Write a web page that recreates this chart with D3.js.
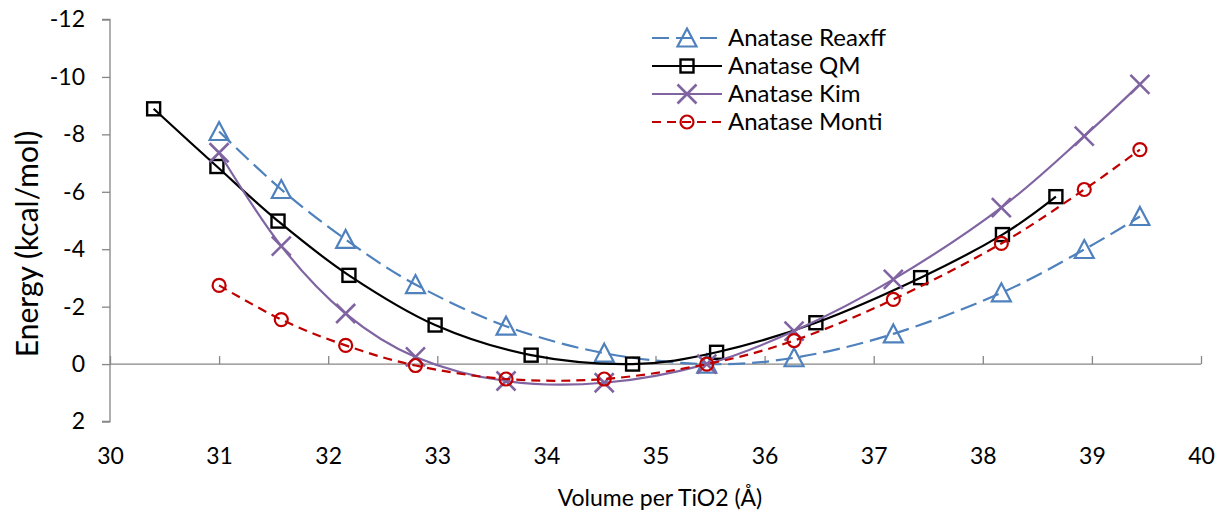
<!DOCTYPE html>
<html><head><meta charset="utf-8">
<script src="https://cdn.jsdelivr.net/npm/d3@7"></script>
<style>body{margin:0;background:#fff;} svg{display:block;font-family:Lato,"Open Sans",sans-serif;}</style>
</head><body>
<svg id="c" width="1220" height="516"></svg>
<script>
const seriesNames = ["Anatase Reaxff","Anatase QM","Anatase Kim","Anatase Monti"];
const volCommon = [31.0,31.57,32.16,32.80,33.63,34.53,35.47,36.27,37.18,38.17,38.93,39.44];
const volQM = [30.40,30.98,31.54,32.19,32.98,33.86,34.79,35.56,36.47,37.43,38.18,38.67];
const eReaxff = [-8.10,-6.08,-4.34,-2.77,-1.32,-0.38,0.0,-0.22,-1.05,-2.48,-3.99,-5.14];
const eQM = [-8.89,-6.88,-4.98,-3.09,-1.36,-0.31,0.0,-0.41,-1.44,-3.01,-4.51,-5.83];
const eKim = [-7.36,-4.11,-1.76,-0.25,0.59,0.65,0.0,-1.15,-2.95,-5.45,-7.94,-9.74];
const eMonti = [-2.74,-1.55,-0.65,0.05,0.52,0.52,0.0,-0.82,-2.25,-4.20,-6.08,-7.47];
const xTicks = [30,31,32,33,34,35,36,37,38,39,40];
const yTicks = [-12,-10,-8,-6,-4,-2,0,2];

const svg = d3.select("#c");
const x = d3.scaleLinear().domain([30,40]).range([110,1201]);
const y = d3.scaleLinear().domain([-12,2]).range([19.5,421.5]);
const axisCol = "#868686";
const fmt = d => String(d);

const series = [
  {name:seriesNames[0], xs:volCommon, ys:eReaxff, color:"#4F81BD", dash:"17,7", marker:"tri"},
  {name:seriesNames[1], xs:volQM, ys:eQM, color:"#000000", dash:null, marker:"sq"},
  {name:seriesNames[2], xs:volCommon, ys:eKim, color:"#8064A2", dash:null, marker:"x"},
  {name:seriesNames[3], xs:volCommon, ys:eMonti, color:"#C00000", dash:"9,6", marker:"circ"}
];

// Y axis
const yAxis = d3.axisLeft(y).tickValues(yTicks).tickSize(8).tickPadding(17).tickFormat(fmt);
const gy = svg.append("g").attr("transform","translate(110,0)").call(yAxis);
gy.select(".domain").attr("stroke",axisCol).attr("stroke-width",1.3).attr("d","M-8,19.5H0V421.5H-8");
gy.selectAll(".tick line").attr("stroke",axisCol).attr("stroke-width",1.3);
gy.selectAll(".tick text").attr("font-size",23).attr("fill","#000").attr("font-family","Lato");

// X axis along y=0
const xAxis = d3.axisTop(x).tickValues(xTicks).tickSize(8).tickFormat("");
const gx = svg.append("g").attr("transform",`translate(0,${y(0)})`).call(xAxis);
gx.select(".domain").attr("stroke",axisCol).attr("stroke-width",1.3).attr("d",`M110,0H${x(40)}`);
gx.selectAll(".tick line").attr("stroke",axisCol).attr("stroke-width",1.3);
// X tick labels at bottom
const gxl = svg.append("g").attr("transform","translate(0,421.5)").call(d3.axisBottom(x).tickValues(xTicks).tickSize(0).tickPadding(26).tickFormat(fmt));
gxl.select(".domain").remove();
gxl.selectAll(".tick text").attr("font-size",23).attr("fill","#000").attr("font-family","Lato");

// titles
svg.append("text").attr("x",660).attr("y",506).attr("text-anchor","middle").attr("font-size",23).text("Volume per TiO2 (Å)");
svg.append("text").attr("transform","translate(38,244) rotate(-90)").attr("text-anchor","middle").attr("font-size",30).text("Energy (kcal/mol)");

function drawMarker(g, type, cx, cy, color){
  if(type==="tri"){
    const s=19, h=17;
    g.append("path").attr("d",`M${cx},${cy-h/2-1}L${cx+s/2},${cy+h/2}L${cx-s/2},${cy+h/2}Z`)
      .attr("fill","none").attr("stroke",color).attr("stroke-width",2.2);
  } else if(type==="sq"){
    const s=13;
    g.append("rect").attr("x",cx-s/2).attr("y",cy-s/2).attr("width",s).attr("height",s)
      .attr("fill","none").attr("stroke",color).attr("stroke-width",2.4);
  } else if(type==="x"){
    const s=9.5;
    g.append("path").attr("d",`M${cx-s},${cy-s}L${cx+s},${cy+s}M${cx-s},${cy+s}L${cx+s},${cy-s}`)
      .attr("stroke",color).attr("stroke-width",2.6).attr("fill","none");
  } else {
    g.append("circle").attr("cx",cx).attr("cy",cy).attr("r",6.5)
      .attr("fill","none").attr("stroke",color).attr("stroke-width",2.2);
  }
}

const line = d3.line().x(d=>x(d[0])).y(d=>y(d[1])).curve(d3.curveCardinal.tension(0));
series.forEach(s=>{
  const pts = s.xs.map((v,i)=>[v,s.ys[i]]);
  const g = svg.append("g");
  g.append("path").datum(pts).attr("d",line).attr("fill","none").attr("stroke",s.color)
    .attr("stroke-width",2.2).attr("stroke-dasharray",s.dash);
  pts.forEach(p=>drawMarker(g,s.marker,x(p[0]),y(p[1]),s.color));
});

// legend
const legY = [38,66,94,122];
series.forEach((s,i)=>{
  const g = svg.append("g");
  g.append("line").attr("x1",652).attr("x2",722).attr("y1",legY[i]).attr("y2",legY[i])
    .attr("stroke",s.color).attr("stroke-width",2.2).attr("stroke-dasharray",s.dash);
  drawMarker(g,s.marker,687,legY[i],s.color);
  g.append("text").attr("x",728).attr("y",legY[i]+8).attr("font-size",24).text(s.name);
});
</script>
</body></html>
